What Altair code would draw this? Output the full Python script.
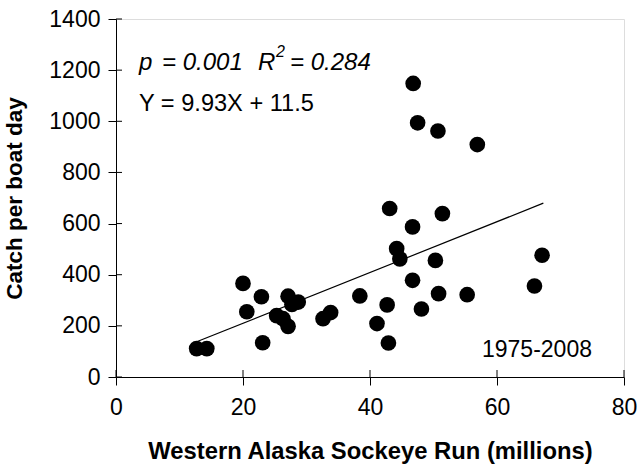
import altair as alt
import pandas as pd

# Western Alaska sockeye run (millions) vs catch per boat day, 1975-2008
run_millions = [12.7, 14.3, 20.0, 20.6, 22.9, 23.1, 25.3, 26.3, 27.1, 27.1, 27.7, 28.7,
                32.6, 33.8, 38.4, 41.1, 42.7, 42.9, 43.1, 44.2, 44.7, 46.7, 46.7, 46.8,
                47.5, 48.1, 50.3, 50.7, 50.8, 51.4, 55.3, 56.9, 65.9, 67.1]
catch_per_day = [111, 111, 366, 255, 314, 134, 240, 228, 316, 198, 284, 293,
                 228, 252, 317, 209, 282, 133, 659, 502, 462, 378, 587, 1148,
                 994, 266, 456, 962, 326, 639, 322, 909, 356, 476]

slope = 9.93
intercept = 11.5
fit_x = [12.7, 67.3]
fit_y = [slope * v + intercept for v in fit_x]

x_ticks = [0, 20, 40, 60, 80]
y_ticks = [0, 200, 400, 600, 800, 1000, 1200, 1400]

pts = pd.DataFrame({"run": run_millions, "catch": catch_per_day})
fit = pd.DataFrame({"run": fit_x, "catch": fit_y})
xt = pd.DataFrame({"v": x_ticks})
yt = pd.DataFrame({"v": y_ticks})

FONT = "Liberation Sans"
W, H = 508, 358

xscale = alt.Scale(domain=[0, 80], nice=False, zero=True)
yscale = alt.Scale(domain=[0, 1400], nice=False, zero=True)

xaxis = alt.Axis(values=x_ticks, grid=False, title="Western Alaska Sockeye Run (millions)",
                 labelFontSize=23, titleFontSize=23.8, titleFontWeight="bold",
                 labelColor="black", titleColor="black", domainColor="black", tickColor="black",
                 tickSize=8, labelPadding=11, titlePadding=20, labelFont=FONT, titleFont=FONT,
                 labelFlush=False)
yaxis = alt.Axis(values=y_ticks, grid=False, title="Catch per boat day", format="d",
                 labelFontSize=23, titleFontSize=22.5, titleFontWeight="bold",
                 labelColor="black", titleColor="black", domainColor="black", tickColor="black",
                 tickSize=8, labelPadding=8, titlePadding=22, labelFont=FONT, titleFont=FONT)

points = alt.Chart(pts).mark_circle(size=245, color="black", opacity=1).encode(
    x=alt.X("run:Q", scale=xscale, axis=xaxis),
    y=alt.Y("catch:Q", scale=yscale, axis=yaxis),
)

line = alt.Chart(fit).mark_line(color="black", strokeWidth=1.2).encode(
    x=alt.X("run:Q", scale=xscale),
    y=alt.Y("catch:Q", scale=yscale),
)

# inward halves of the crossing tick marks
xin = alt.Chart(xt).mark_rule(color="black", strokeWidth=1).encode(
    x=alt.X("v:Q", scale=xscale), y=alt.value(H), y2=alt.value(H - 7))
yin = alt.Chart(yt).mark_rule(color="black", strokeWidth=1).encode(
    y=alt.Y("v:Q", scale=yscale), x=alt.value(0), x2=alt.value(6))

def txt(s, x, y, size=24, style="normal", align="left"):
    return alt.Chart(pd.DataFrame({"t": [s]})).mark_text(
        align=align, baseline="alphabetic", fontSize=size, fontStyle=style, font=FONT, color="black"
    ).encode(text="t:N", x=alt.value(x), y=alt.value(y))

stats1 = txt("p", 23, 51, style="italic")
stats1b = txt("= 0.001", 46, 51, style="italic")
stats2 = txt("R", 142, 51, style="italic")
stats3 = txt("2", 160, 38, size=16, style="italic")
stats4 = txt("= 0.284", 174, 51, style="italic")
eq = txt("Y = 9.93X + 11.5", 23, 92, size=23.6)
years = txt("1975-2008", 476, 338, size=23, align="right")

chart = alt.layer(line, xin, yin, points, stats1, stats1b, stats2, stats3, stats4, eq, years).properties(
    width=W, height=H,
    autosize=alt.AutoSizeParams(type="none"),
    padding={"left": 116, "top": 19, "right": 13, "bottom": 90},
).configure_view(stroke="black", strokeWidth=1.5).configure(background="white")

chart.save("out.html", embed_options={"renderer": "svg", "actions": False})
